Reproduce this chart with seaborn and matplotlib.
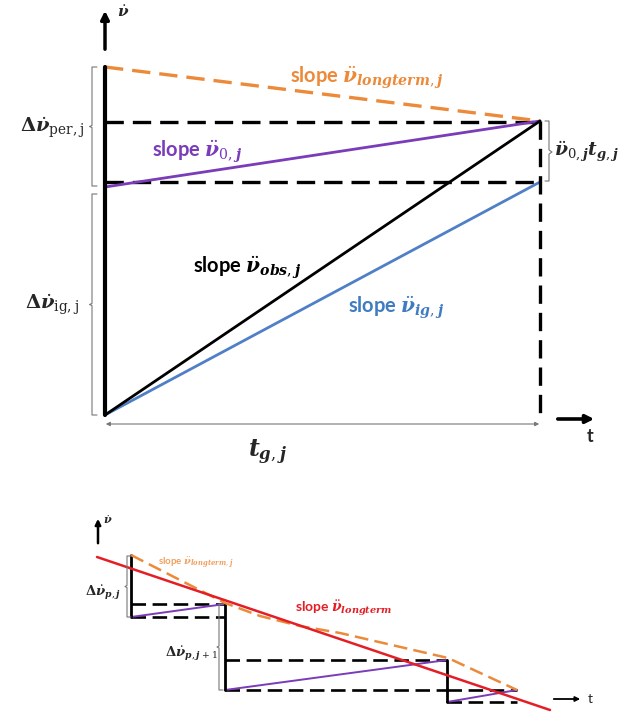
import matplotlib
matplotlib.use("Agg")
import matplotlib.pyplot as plt
import seaborn as sns
import numpy as np

sns.set_theme(style="white")
plt.rcParams['font.family'] = ['Lato', 'DejaVu Sans']
plt.rcParams['mathtext.fontset'] = 'custom'
plt.rcParams['mathtext.it'] = 'DejaVu Serif:italic:bold'
plt.rcParams['mathtext.rm'] = 'DejaVu Serif'
plt.rcParams['mathtext.bf'] = 'DejaVu Serif:bold'

# ---------------- data (schematic units, upper panel) ----------------
top_t = [105, 540]              # t = 0 and t = t_g,j
nu_longterm_j = [67, 121]       # orange dashed
nu_0_j = [187, 121]             # purple
nu_obs_j = [415, 121]           # black
nu_ig_j = [415, 182]            # blue
nu_level_hi = [122, 122]
nu_level_lo = [182, 182]

# ---------------- data (lower panel) ----------------
glitch_x0 = [131, 225, 447]
glitch_x1 = [225, 447, 517]
glitch_low = [617, 690, 702]
glitch_high = [604, 660, 690]
jump_top = [555, 604, 660]
orange_x = [131, 225, 260, 300, 340, 448, 517]
orange_y = [555, 603, 616, 626, 633, 658, 690]
red_x = [97, 550]
red_y = [557, 710]

ORANGE = "#EC8A3A"
PURPLE = "#7A3CB8"
BLUE = "#4F7FC6"
RED = "#E41E26"
GRAY = "#777777"

fig = plt.figure(figsize=(6.22, 7.13), dpi=100)
ax = fig.add_axes([0, 0, 1, 1])
ax.set_xlim(0, 622)
ax.set_ylim(713, 0)
ax.axis("off")


def line(x, y, color, lw, dashed=False, dash=(6, 3)):
    l = sns.lineplot(x=list(x), y=list(y), ax=ax, color=color, lw=lw,
                     sort=False, estimator=None, legend=False)
    if dashed:
        l.lines[-1].set_dashes(dash)
        l.lines[-1].set_dash_capstyle('butt')


def brace(x, y0, y1, w=5):
    ym = (y0 + y1) / 2
    ax.plot([x + w, x, x, x - w / 2, x, x, x + w],
            [y0, y0, ym - 1, ym, ym + 1, y1, y1], color=GRAY, lw=0.8)


# ---------------- upper panel ----------------
line(top_t, nu_level_hi, "black", 2.4, True, (5.5, 2.7))
line(top_t, nu_level_lo, "black", 2.4, True, (5.5, 2.7))
line(top_t, nu_longterm_j, ORANGE, 2.4, True, (5.5, 2.7))
line(top_t, nu_0_j, PURPLE, 2.0)
line(top_t, nu_ig_j, BLUE, 2.0)
line(top_t, nu_obs_j, "black", 2.0)
line([top_t[1], top_t[1]], [nu_obs_j[1], nu_obs_j[0]], "black", 2.4, True, (5.5, 2.7))
line([top_t[0], top_t[0]], [nu_longterm_j[0], nu_obs_j[0]], "black", 3.0)

ax.annotate("", xy=(105, 8), xytext=(105, 52),
            arrowprops=dict(arrowstyle="-|>", color="black", lw=2.5,
                            mutation_scale=12))
ax.text(117, 12, r"$\dot{\nu}$", fontsize=11, ha="left", va="center")
ax.annotate("", xy=(103, 424), xytext=(542, 424),
            arrowprops=dict(arrowstyle="<|-|>", color=GRAY, lw=0.8,
                            mutation_scale=6))
ax.annotate("", xy=(597, 419), xytext=(555, 419),
            arrowprops=dict(arrowstyle="-|>", color="black", lw=2.6,
                            mutation_scale=12))
ax.text(590, 437, "t", fontsize=13, fontweight="bold", ha="center", va="center")
ax.text(268, 452, r"$t_{g,j}$", fontsize=17, ha="center", va="center")

brace(92, 67, 186)
brace(92, 194, 415)
ax.text(52, 128, r"$\mathbf{\Delta}\dot{\nu}_{\mathrm{per,j}}$", fontsize=14,
        ha="center", va="center")
ax.text(52, 305, r"$\mathbf{\Delta}\dot{\nu}_{\mathrm{ig,j}}$", fontsize=14,
        ha="center", va="center")
ax.plot([545, 549, 549, 552, 549, 549, 545], [121, 121, 150, 152, 154, 181, 181],
        color=GRAY, lw=0.8)
ax.text(554, 152, r"$\ddot{\nu}_{0,j}t_{g,j}$", fontsize=13.5, ha="left", va="center")

ax.text(290, 78, r"slope $\ddot{\nu}_{longterm,j}$", fontsize=14.5, color=ORANGE,
        fontweight="bold", ha="left", va="center")
ax.text(152, 152, r"slope $\ddot{\nu}_{0,j}$", fontsize=14.5, color=PURPLE,
        fontweight="bold", ha="left", va="center")
ax.text(193, 268, r"slope $\ddot{\nu}_{obs,j}$", fontsize=14.5, color="black",
        fontweight="bold", ha="left", va="center")
ax.text(348, 308, r"slope $\ddot{\nu}_{ig,j}$", fontsize=14.5, color="#3F7CC0",
        fontweight="bold", ha="left", va="center")

# ---------------- lower panel ----------------
for x0, x1, lo, hi in zip(glitch_x0, glitch_x1, glitch_low, glitch_high):
    line([x0, x1], [hi, hi], "black", 1.9, True, (5.5, 2.5))
    line([x0, x1], [lo, lo], "black", 1.9, True, (5.5, 2.5))
    line([x0, x1], [lo, hi], PURPLE, 1.4)
for xj, top, lo in zip(glitch_x0, jump_top, glitch_low):
    line([xj, xj], [top, lo], "black", 2.0)
line(orange_x, orange_y, ORANGE, 1.8, True, (5.5, 2.5))
line(red_x, red_y, RED, 1.8)

ax.annotate("", xy=(98, 516), xytext=(98, 546),
            arrowprops=dict(arrowstyle="-|>", color="black", lw=1.8,
                            mutation_scale=8))
ax.text(103, 520, r"$\dot{\nu}$", fontsize=8, ha="left", va="center")
ax.annotate("", xy=(583, 699), xytext=(551, 699),
            arrowprops=dict(arrowstyle="-|>", color="black", lw=1.3,
                            mutation_scale=7))
ax.text(588, 699, "t", fontsize=10, ha="left", va="center")

brace(127, 556, 617, w=4)
brace(219, 604, 690, w=4)
ax.text(103, 593, r"$\mathbf{\Delta}\dot{\nu}_{p,j}$", fontsize=9.5,
        ha="center", va="center")
ax.text(191, 654, r"$\mathbf{\Delta}\dot{\nu}_{p,j+1}$", fontsize=9.5,
        ha="center", va="center")
ax.text(158, 563, r"slope $\ddot{\nu}_{longterm,j}$", fontsize=7, color="#F0A060",
        fontweight="bold", ha="left", va="center")
ax.text(295, 608, r"slope $\ddot{\nu}_{longterm}$", fontsize=10, color=RED,
        fontweight="bold", ha="left", va="center")

fig.savefig("out.png", dpi=100)
